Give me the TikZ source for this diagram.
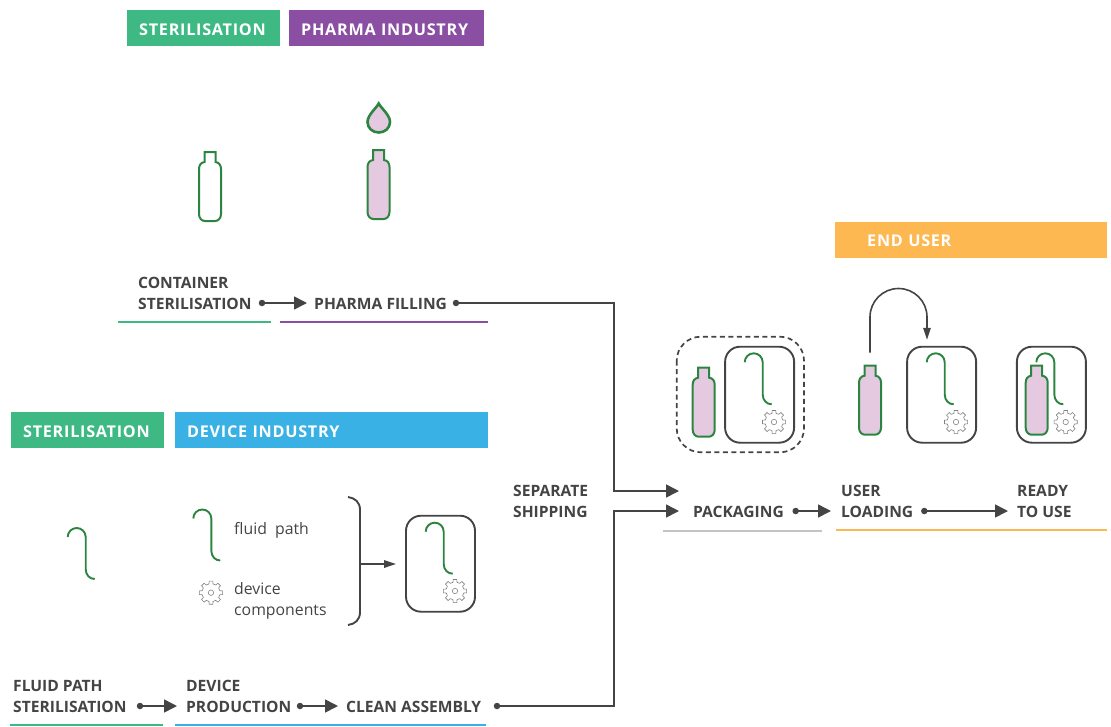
\documentclass[tikz,border=0pt]{standalone}
\usepackage{fontspec}
\setmainfont{Open Sans}
\newfontfamily\tagfont[LetterSpace=4.5]{Open Sans}
\usetikzlibrary{arrows.meta}

\definecolor{inkgrey}{HTML}{444444}
\definecolor{pathgreen}{HTML}{2B8540}
\definecolor{vial}{HTML}{E4C9E0}
\definecolor{steril}{HTML}{3FB984}
\definecolor{pharma}{HTML}{8A4FA3}
\definecolor{device}{HTML}{39B1E5}
\definecolor{enduser}{HTML}{FDB851}
\definecolor{packline}{HTML}{C4C4C4}

\tikzset{
  label/.style = {inner sep=0pt, anchor=west, align=left, text=inkgrey, yshift=-0.7pt,
    font=\fontsize{15.6}{21}\selectfont\bfseries},
  note/.style = {inner sep=0pt, anchor=west, align=left, text=inkgrey, yshift=-0.5pt,
    font=\fontsize{15.8}{21}\selectfont},
  tag/.style = {inner sep=0pt, inner xsep=12pt, minimum height=36pt, align=left,
    text height=13.6pt, text depth=0pt,
    anchor=north west, text=white, font=\tagfont\fontsize{16.2}{18}\selectfont\bfseries},
  dot/.style = {circle, fill=inkgrey, inner sep=0pt, minimum size=6.5pt},
  flow/.style = {draw=inkgrey, line width=1.6pt, -{Triangle[length=13pt,width=13pt]}},
  thinflow/.style = {draw=inkgrey, line width=1.6pt, -{Triangle[length=12pt,width=7.5pt]}},
  unitbox/.style = {draw=inkgrey, line width=1.9pt, rounded corners=15pt, inner sep=0pt,
    minimum width=69pt, minimum height=96pt},
  rule/.style = {line width=2pt},
  bottle/.pic = {
    \draw[draw=pathgreen, line width=2pt, pic actions] (-5.5,0) -- (5.5,0) -- (5.5,10)
      .. controls (9,10.5) and (11,13) .. (11,17) -- (11,62)
      .. controls (11,66.5) and (8,69) .. (5,69) -- (-5,69)
      .. controls (-8,69) and (-11,66.5) .. (-11,62) -- (-11,17)
      .. controls (-11,13) and (-9,10.5) .. (-5.5,10) -- cycle;
  },
  fluid/.pic = {
    \draw[pathgreen, line width=1.9pt] (0,0) .. controls (0,-5) and (4,-9) .. (9,-9)
      .. controls (14,-9) and (18,-5) .. (18,0) -- (18,32)
      .. controls (18,38) and (22,42) .. (27,42);
  },
  gear/.pic = {
    \draw[gray, line width=0.6pt] (-13:9)
      \foreach \a in {0,45,...,315} { -- (\a-13:9) -- (\a-9:11.7) -- (\a+9:11.7) -- (\a+13:9) }
      -- cycle;
    \draw[gray, line width=0.6pt] (0,0) circle (2.7);
  }
}

\begin{document}
\begin{tikzpicture}[x=1pt,y=-1pt]
  \useasboundingbox (0,0) rectangle (1111,726);

  % tags
  \node[tag, fill=steril, text width=129pt] (tagA) at (127,10) {STERILISATION};
  \node[tag, fill=pharma, text width=171pt] (tagB) at (289,10) {PHARMA INDUSTRY};
  \node[tag, fill=steril, text width=129pt] (tagC) at (11,412) {STERILISATION};
  \node[tag, fill=device, text width=289pt] (tagD) at (175,412) {DEVICE INDUSTRY};
  \node[tag, fill=enduser, text width=208pt, inner xsep=32pt, text height=12.6pt] (tagE) at (835,222) {END USER};

  % bottles, top row
  \pic (emptyvial) at (210,152) {bottle};
  \pic[fill=vial] (filledvial) at (378.5,150) {bottle};
  \draw[pathgreen, line width=2.6pt, fill=vial] (378.7,103.5)
    .. controls (381,108) and (390,115) .. (390,122)
    .. controls (390,128) and (385,132.5) .. (378.7,132.5)
    .. controls (372.5,132.5) and (367.5,128) .. (367.5,122)
    .. controls (367.5,115) and (376.5,108) .. (378.7,103.5) -- cycle;

  % device parts
  \pic at (67.7,537) {fluid};
  \pic at (193.3,518.5) {fluid};
  \pic at (211,592.7) {gear};
  \node[note] (fluidnote) at (234,530) {fluid\ \ path};
  \node[note] (gearnote) at (234,600.5) {device\\components};
  \draw[inkgrey, line width=1.9pt] (348,497) .. controls (355,498) and (360,502) .. (360,510)
    -- (360,612) .. controls (360,620) and (355,624) .. (348,625);
  \coordinate (brace) at (360,564);
  \node[unitbox] (devbox) at (440.5,563.7) {};
  \pic at (425.7,531.7) {fluid};
  \pic at (455,591) {gear};
  \draw[thinflow, shorten >=9pt] (brace) -- (brace -| devbox.west);

  % packaging
  \draw[inkgrey, line width=1.7pt, dash pattern=on 5pt off 3.5pt, rounded corners=24pt] (676.7,336.7) rectangle (804,452.3);
  \pic[fill=vial] at (703.7,367.7) {bottle};
  \node[unitbox] (packbox) at (759.6,394.7) {};
  \pic at (744.7,362.3) {fluid};
  \pic at (774,422) {gear};

  % user loading
  \pic[fill=vial] at (870,365.7) {bottle};
  \node[unitbox] (userbox) at (941.6,394.7) {};
  \pic at (926.7,362.3) {fluid};
  \pic at (956,422) {gear};
  \coordinate (liftoff) at (870,352.7);
  \draw[thinflow, shorten >=6pt] (liftoff) -- (870,317) arc[start angle=180, end angle=360, x radius=28.5pt, y radius=-28.5pt]
    -- (userbox.north -| 927,0);

  % ready to use
  \node[unitbox] (readybox) at (1051.4,394.7) {};
  \pic at (1036.3,362.3) {fluid};
  \pic at (1065.7,422) {gear};
  \pic[fill=vial] at (1036.7,365.7) {bottle};

  % step labels
  \node[label] (contster) at (138,292.5) {CONTAINER\\STERILISATION};
  \node[label] (filling) at (314,303) {PHARMA FILLING};
  \node[label] (fluidster) at (13,695.5) {FLUID PATH\\STERILISATION};
  \node[label] (prod) at (186,695.5) {DEVICE\\PRODUCTION};
  \node[label] (clean) at (346,706) {CLEAN ASSEMBLY};
  \node[label] (shipping) at (513,500.5) {SEPARATE\\SHIPPING};
  \node[label] (packaging) at (693,511) {PACKAGING};
  \node[label] (loading) at (841,500.5) {USER\\LOADING};
  \node[label] (ready) at (1017,500.5) {READY\\TO USE};

  % dots and connectors
  \node[dot] (d1) at (262,303) {};
  \node[dot] (d2) at (456,303) {};
  \node[dot] (d3) at (140,706) {};
  \node[dot] (d4) at (300,706) {};
  \node[dot] (d5) at (497,706) {};
  \node[dot] (d6) at (795.7,511) {};
  \node[dot] (d7) at (924.3,511) {};

  \draw[flow, shorten >=7pt] (d1.center) -- (d1 -| filling.west);
  \draw[flow, shorten >=9pt] (d3.center) -- (d3 -| prod.west);
  \draw[flow, shorten >=8pt] (d4.center) -- (d4 -| clean.west);
  \draw[flow, shorten >=10pt] (d6.center) -- (d6 -| loading.west);
  \draw[flow, shorten >=9pt] (d7.center) -- (d7 -| ready.west);
  \draw[flow, shorten >=14pt] (d2.center) -- (614,303) -- (614,491) -- (packaging.west |- 0,491);
  \draw[flow, shorten >=14pt] (d5.center) -- (614,706) -- (614,511) -- (d5 |- 0,511 -| packaging.west);

  % rules under the steps
  \draw[rule, steril] (118,322) -- (271,322);
  \draw[rule, pharma] (280,322) -- (488,322);
  \draw[rule, steril] (10,725) -- (163,725);
  \draw[rule, device] (175,725) -- (486,725);
  \draw[rule, packline] (663,530.5) -- (822,530.5);
  \draw[rule, enduser] (836,530) -- (1107,530);
\end{tikzpicture}
\end{document}
